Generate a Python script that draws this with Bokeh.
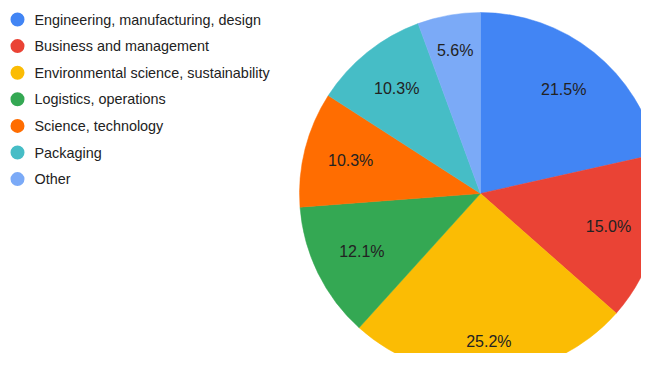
import math
from bokeh.plotting import figure
from bokeh.models import Range1d, ColumnDataSource
from bokeh.core.properties import value
from bokeh.embed import file_html
from bokeh.resources import INLINE

categories = ["Engineering, manufacturing, design", "Business and management",
              "Environmental science, sustainability", "Logistics, operations",
              "Science, technology", "Packaging", "Other"]
shares = [21.5, 15.0, 25.2, 12.1, 10.3, 10.3, 5.6]
colors = ["#4285F4", "#EA4335", "#FBBC04", "#34A853", "#FF6D01", "#46BDC6", "#7BAAF7"]
# radial placement of each slice label, as a fraction of the radius
label_r = [0.735, 0.73, 0.82, 0.73, 0.74, 0.74, 0.80]

W, H = 641, 353
p = figure(width=W, height=H, output_backend="svg", toolbar_location=None,
           x_range=Range1d(0, W), y_range=Range1d(0, H), min_border=0)
p.axis.visible = False
p.grid.visible = False
p.outline_line_color = None
p.background_fill_color = "white"
p.border_fill_color = "white"

cx, cy, R = 480, H - 193, 181
total = sum(shares)
starts, ends, lx, ly, labels = [], [], [], [], []
cum = 0.0
for s, fr in zip(shares, label_r):
    a0 = math.pi / 2 - 2 * math.pi * cum / total
    a1 = math.pi / 2 - 2 * math.pi * (cum + s) / total
    starts.append(a0)
    ends.append(a1)
    mid = (a0 + a1) / 2
    lx.append(cx + fr * R * math.cos(mid))
    ly.append(cy + fr * R * math.sin(mid))
    labels.append(f"{s:.1f}%")
    cum += s

src = ColumnDataSource(dict(start=starts, end=ends, color=colors))
p.wedge(x=cx, y=cy, radius=R, start_angle="start", end_angle="end",
        direction="clock", fill_color="color", line_color="color", line_width=0.5,
        source=src)
p.text(x=lx, y=ly, text=labels, text_font=value("Liberation Sans"),
       text_font_size="16px", text_color="#222222", text_align="center",
       text_baseline="middle")

# legend
ys = [H - (19 + 26.6 * i) for i in range(len(categories))]
p.scatter(x=[17] * len(categories), y=ys, size=14, marker="circle",
          fill_color=colors, line_color=None)
p.text(x=[34] * len(categories), y=ys, text=categories,
       text_font=value("Liberation Sans"), text_font_size="14.4px",
       text_color="#222222", text_align="left", text_baseline="middle")

open("out.html", "w").write(file_html(p, INLINE))
